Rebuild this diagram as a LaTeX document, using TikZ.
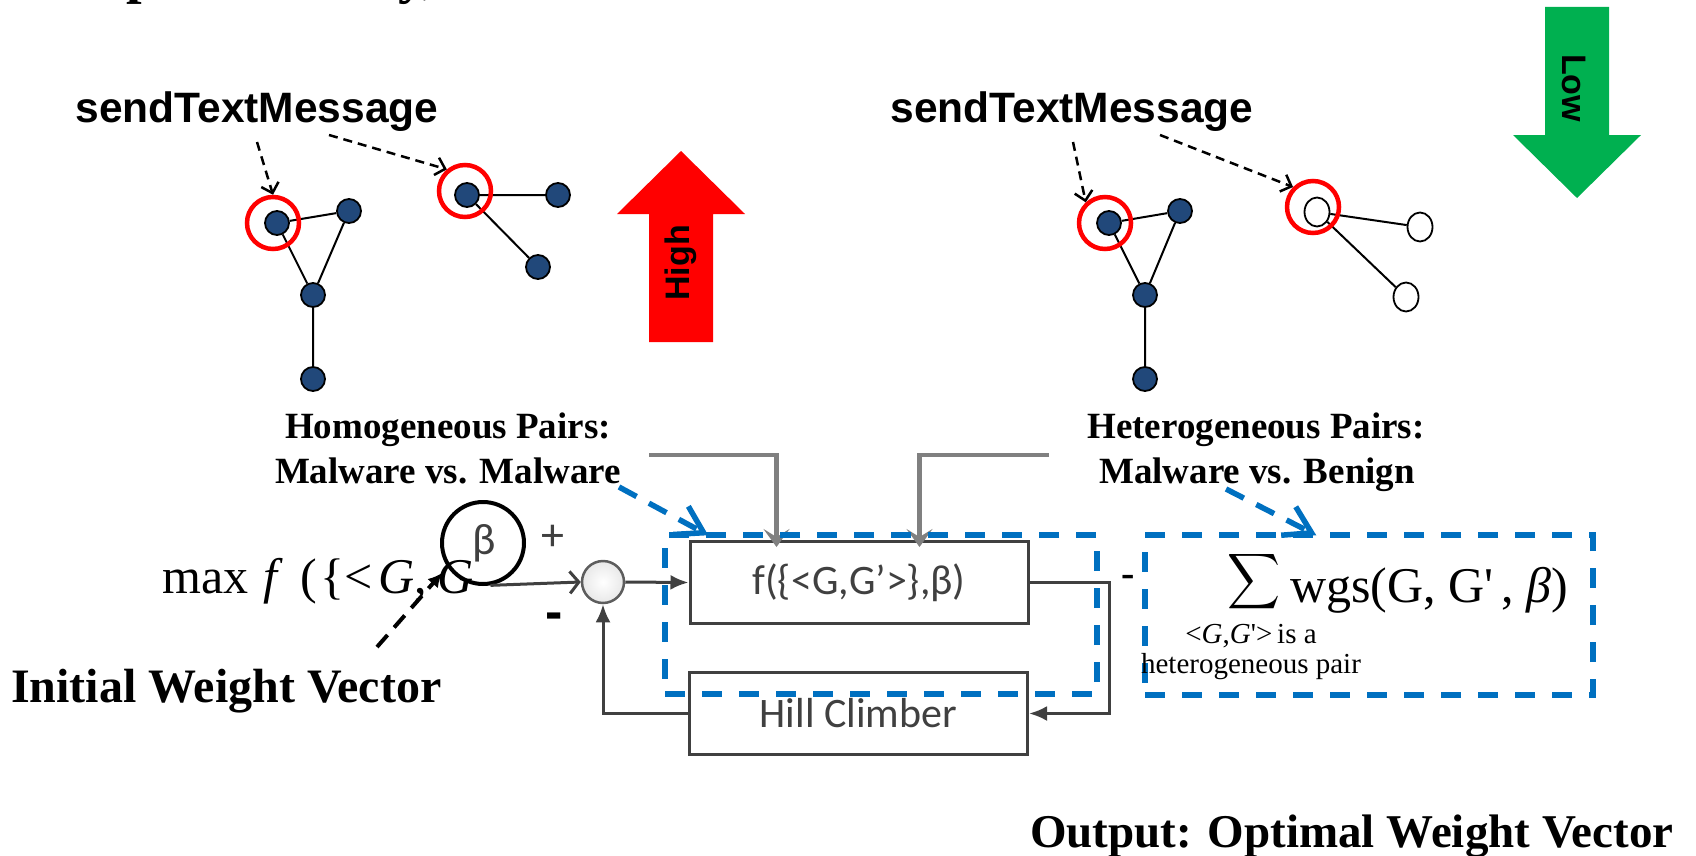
\documentclass[tikz,border=0pt]{standalone}
\usepackage{fontspec}
\usepackage{graphicx}
\setmainfont{Liberation Serif}
\newfontfamily\arialfont{Liberation Sans}
\newfontfamily\calfont{Carlito}
\usetikzlibrary{arrows.meta,calc,shapes.geometric}

\definecolor{nodeblue}{RGB}{33,72,122}
\definecolor{ringred}{RGB}{255,0,0}
\definecolor{upred}{RGB}{255,0,0}
\definecolor{downgreen}{RGB}{0,176,80}
\definecolor{dashblue}{RGB}{0,112,192}
\definecolor{ctrlgray}{RGB}{64,64,64}
\definecolor{feedgray}{RGB}{128,128,128}

\tikzset{
  gnode/.style={circle, draw=black, line width=1.8pt, fill=nodeblue, minimum size=24pt, inner sep=0pt},
  wnode/.style={ellipse, draw=black, line width=1.8pt, fill=white, minimum width=25pt, minimum height=29pt, inner sep=0pt},
  ring/.style={circle, draw=ringred, line width=4.5pt, minimum size=52pt, inner sep=0pt},
  gedge/.style={black, line width=2pt},
  callout/.style={black, line width=2.5pt, dash pattern=on 9pt off 6pt, -{Straight Barb[length=9pt,width=18pt]}},
  stm/.style={font=\arialfont\bfseries\fontsize{42.5pt}{42.5pt}\selectfont, anchor=base, inner sep=0pt},
  arrowlbl/.style={font=\arialfont\bfseries\fontsize{34pt}{34pt}\selectfont, inner sep=0pt},
  head/.style={font=\bfseries\fontsize{37pt}{37pt}\selectfont, anchor=base, inner sep=0pt},
  bigbold/.style={font=\bfseries\fontsize{48pt}{48pt}\selectfont, anchor=base west, inner sep=0pt},
  ctrlbox/.style={draw=ctrlgray, line width=3pt, minimum width=338pt, minimum height=82pt, inner sep=0pt,
    font=\calfont\fontsize{42pt}{42pt}\selectfont, text=ctrlgray},
  ctrl/.style={ctrlgray, line width=3pt},
  flow/.style={-{Latex[length=18pt,width=15pt]}},
  sumj/.style={circle, draw=ctrlgray!85, line width=2.5pt, minimum size=42pt, inner sep=0pt,
    inner color=white, outer color=gray!18},
  inarrow/.style={feedgray, line width=4.5pt, -{Stealth[length=18pt,width=26pt,inset=8pt]}},
  bluebox/.style={draw=dashblue, line width=5.5pt, dash pattern=on 20pt off 17pt, inner sep=0pt},
  bluearrow/.style={dashblue, line width=5.5pt, dash pattern=on 20pt off 14pt, -{Straight Barb[length=26pt,width=32pt]}},
  initarrow/.style={black, line width=4pt, dash pattern=on 16pt off 10pt, -{Latex[length=14pt,width=14pt]}}
}

\begin{document}
\begin{tikzpicture}[x=1pt, y=-1pt]
\useasboundingbox (0,0) rectangle (1696,856);
\clip (0,0) rectangle (1696,856);

% descenders of the heading line above
\node[font=\bfseries\fontsize{56pt}{56pt}\selectfont, anchor=base west, inner sep=0pt] (frag1) at (126,-7) {p};
\node[font=\bfseries\fontsize{56pt}{56pt}\selectfont, anchor=base west, inner sep=0pt] (frag2) at (398,-7) {y,};

% ---------- malware graphs (homogeneous pair) ----------
\node[stm] (stm1) at (257,122) {sendTextMessage};

\node[gnode] (a1) at (277,223) {};
\node[gnode] (b1) at (349,211) {};
\node[gnode] (c1) at (313,295) {};
\node[gnode] (d1) at (313,379) {};
\draw[gedge] (a1) -- (b1) (a1) -- (c1) (b1) -- (c1) (c1) -- (d1);
\node[ring] (r1) at (273,223) {};

\node[gnode] (e1) at (467,195) {};
\node[gnode] (f1) at (558,195) {};
\node[gnode] (g1) at (538,267) {};
\draw[gedge] (e1) -- (f1) (e1) -- (g1);
\node[ring] (r2) at (465,191) {};

\coordinate (s1a) at (257,142);
\coordinate (s1b) at (329,135);
\draw[callout] (s1a) -- (r1.north);
\draw[callout] (s1b) -- (r2.130);

% "High" arrow
\fill[upred] (649,342) -- (649,214) -- (617,214) -- (681,151) -- (745,214) -- (713,214) -- (713,342) -- cycle;
\node[arrowlbl, rotate=90] (high) at (681,263) {High};

% ---------- malware vs benign graphs (heterogeneous pair) ----------
\node[stm] (stm2) at (1072,122) {sendTextMessage};

\node[gnode] (a2) at (1109,223) {};
\node[gnode] (b2) at (1180,211) {};
\node[gnode] (c2) at (1145,295) {};
\node[gnode] (d2) at (1145,379) {};
\draw[gedge] (a2) -- (b2) (a2) -- (c2) (b2) -- (c2) (c2) -- (d2);
\node[ring] (r3) at (1105,223) {};

\node[wnode] (e2) at (1317,212) {};
\node[wnode] (f2) at (1420,227) {};
\node[wnode] (g2) at (1406,297) {};
\draw[gedge] (e2) -- (f2) (e2) -- (g2);
\node[ring] (r4) at (1313,207) {};

\coordinate (s2a) at (1073,142);
\coordinate (s2b) at (1160,135);
\draw[callout] (s2a) -- (r3.133);
\draw[callout] (s2b) -- (r4.135);

% "Low" arrow
\fill[downgreen] (1545,7) -- (1545,135) -- (1513,135) -- (1577,198) -- (1641,135) -- (1609,135) -- (1609,7) -- cycle;
\node[arrowlbl, rotate=-90] (low) at (1574,88) {Low};

% ---------- pair captions ----------
\node[head] (hom1) at (448,438) {Homogeneous Pairs:};
\node[head] (hom2) at (448,483) {Malware vs. Malware};
\node[head] (het1) at (1256,438) {Heterogeneous Pairs:};
\node[head] (het2) at (1257,483) {Malware vs. Benign};

% ---------- objective ----------
\node[font=\fontsize{50pt}{50pt}\selectfont, anchor=base west, inner sep=0pt] (obj) at (162,593)
  {max\hspace{15pt}\textit{f}\hspace{18pt}(\hspace{3pt}\{<\hspace{6pt}\textit{G},\hspace{10pt}\textit{G}};

% ---------- control loop ----------
\node[ctrlbox] (fbox) at (859,582.5) {f(\{<G,G’>\},β)};
\node[ctrlbox] (hill) at (858.5,713.5) {\raisebox{-3pt}{Hill Climber}};

\node[sumj] (sum) at (603,582) {};
\node[circle, draw=black, line width=4pt, minimum size=82pt, inner sep=0pt,
      font=\calfont\fontsize{44pt}{44pt}\selectfont, text=ctrlgray] (beta) at (483,543) {\hspace{3pt}\raisebox{4pt}{β}};

\node[font=\calfont\fontsize{46pt}{46pt}\selectfont, text=ctrlgray, inner sep=0pt] (plus) at (553,538) {+};
\node[font=\arialfont\bfseries\fontsize{52pt}{52pt}\selectfont, inner sep=0pt] (minus) at (554,621) {-};

\draw[ctrl, -{Straight Barb[length=9pt,width=22pt]}] (beta.-80) -- (sum.west);
\draw[ctrl, flow] (sum.east) -- (fbox.west);
\draw[ctrl, flow] (fbox.east) -- ++(80,0) |- (hill.east);
\draw[ctrl, flow] (hill.west) -| (sum.south);

% pair inputs
\coordinate (in1) at (649,455);
\coordinate (in2) at (1049,455);
\draw[inarrow] (in1) -| ($(fbox.north west)+(88,7)$);
\draw[inarrow] (in2) -| ($(fbox.north west)+(231,7)$);

% dashed groupings
\node[bluebox, minimum width=432pt, minimum height=159pt] (blue1) at (881,614.5) {};
\node[bluebox, minimum width=448pt, minimum height=160pt] (blue2) at (1369,615) {};
\coordinate (bl1s) at (619,487);
\coordinate (bl2s) at (1226,489);
\draw[bluearrow] (bl1s) -- ($(blue1.north west)+(46,3)$);
\draw[bluearrow] (bl2s) -- ($(blue2.north west)+(174,3)$);

\node[font=\bfseries\fontsize{40pt}{40pt}\selectfont, inner sep=0pt] (gap) at (1128,581) {-};

% weighted sum over heterogeneous pairs
\node[inner sep=0pt] (sigma) at (1254,582) {\resizebox*{53pt}{62pt}{$\displaystyle\sum$}};
\node[font=\fontsize{50pt}{50pt}\selectfont, anchor=base west, inner sep=0pt] (wgs) at (1290,602)
  {wgs(G, G\textquotesingle\,, \textit{β})};
\node[font=\fontsize{29pt}{30pt}\selectfont, align=center, anchor=north, inner sep=0pt] (under) at (1251,624)
  {\textless\textit{G},\textit{G}\textquotesingle\textgreater\,is a\\heterogeneous pair};

% labels for start and end of the search
\node[bigbold] (iwv) at (11,702) {Initial Weight Vector};
\coordinate (iwvtail) at (377,647);
\coordinate (gtip) at (442,573);
\draw[initarrow] (iwvtail) -- (gtip);

\node[bigbold, font=\bfseries\fontsize{47pt}{47pt}\selectfont] (out) at (1030,847) {Output: Optimal Weight Vector};
\end{tikzpicture}
\end{document}
